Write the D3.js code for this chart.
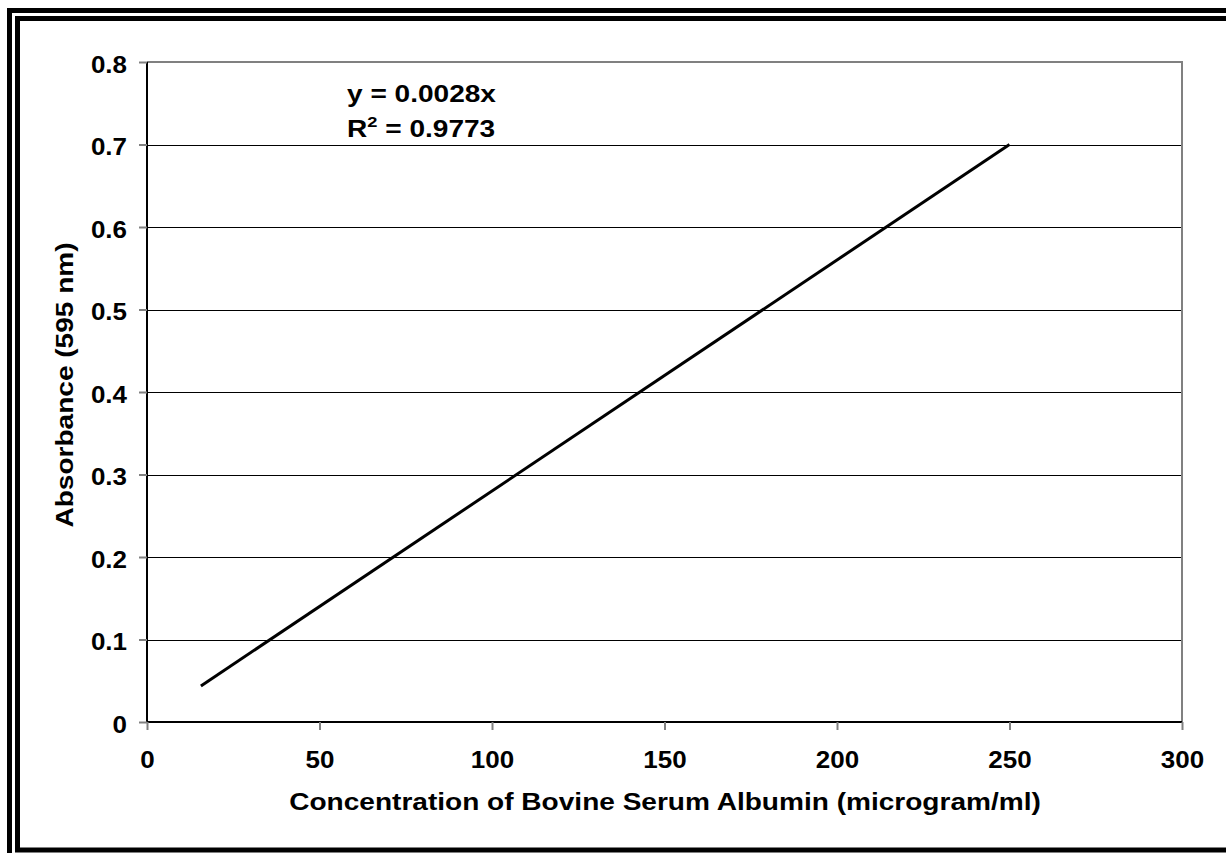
<!DOCTYPE html>
<html><head><meta charset="utf-8">
<script src="https://cdn.jsdelivr.net/npm/d3@7"></script>
<style>html,body{margin:0;padding:0;background:#fff;} svg{display:block;}</style>
</head><body>
<script>
const xTicks = [0, 50, 100, 150, 200, 250, 300];
const yTicks = [0, 0.1, 0.2, 0.3, 0.4, 0.5, 0.6, 0.7, 0.8];
const trendX = [15.625, 250];
const trendY = [0.04375, 0.7];
const equationLines = ["y = 0.0028x", "R2 = 0.9773"];
const xTitle = "Concentration of Bovine Serum Albumin (microgram/ml)";
const yTitle = "Absorbance (595 nm)";

const W = 1226, H = 853;
const svg = d3.select("body").append("svg").attr("width", W).attr("height", H);
const font = "'Liberation Sans', Arial, sans-serif";
const SX_TICK = 1.13, SX_TEXT = 1.22;

// frame
svg.append("rect").attr("x", 9.5).attr("y", 10.5).attr("width", 1300).attr("height", 1000)
  .attr("fill", "none").attr("stroke", "#000").attr("stroke-width", 5);
svg.append("rect").attr("x", 17.5).attr("y", 18.5).attr("width", 1300).attr("height", 831.5)
  .attr("fill", "none").attr("stroke", "#000").attr("stroke-width", 5);

const L = 147, R = 1182, T = 62, B = 722;
const x = d3.scaleLinear().domain([0, 300]).range([L, R]);
const y = d3.scaleLinear().domain([0, 0.8]).range([B, T]);

// gridlines
svg.append("g").selectAll("line").data(yTicks.filter(d => d > 0 && d < 0.8)).join("line")
  .attr("x1", L).attr("x2", R).attr("y1", d => Math.round(y(d)) + 0.5).attr("y2", d => Math.round(y(d)) + 0.5)
  .attr("stroke", "#000").attr("stroke-width", 1);

// plot border (top/right gray)
svg.append("path").attr("d", `M${L},${T}H${R}V${B}`).attr("fill", "none")
  .attr("stroke", "#808080").attr("stroke-width", 2);

// axes
const yAxis = d3.axisLeft(y).tickValues(yTicks).tickSize(8).tickFormat(d => d === 0 ? "0" : d3.format(".1f")(d));
const gy = svg.append("g").attr("transform", `translate(${L},0)`).call(yAxis);
const xAxis = d3.axisBottom(x).tickValues(xTicks).tickSize(8).tickFormat(d3.format("d"));
const gx = svg.append("g").attr("transform", `translate(0,${B})`).call(xAxis);
[gx, gy].forEach(g => {
  g.select(".domain").attr("stroke", "#000").attr("stroke-width", 2);
  g.selectAll(".tick line").attr("stroke", "#808080").attr("stroke-width", 2);
  g.selectAll(".tick text").attr("font-family", font).attr("font-weight", "bold")
    .attr("font-size", 23).attr("fill", "#000");
});
gy.select(".domain").attr("d", `M0,${T}V${B}`);
gx.select(".domain").attr("d", `M${L},0H${R}`);
gy.selectAll(".tick text").attr("x", null).attr("dy", null)
  .attr("transform", `translate(-20,10) scale(${SX_TICK},1)`);
gx.selectAll(".tick text").attr("y", null).attr("dy", null)
  .attr("transform", `translate(0,46) scale(${SX_TICK},1)`);

// trendline
svg.append("line").attr("x1", x(trendX[0])).attr("y1", y(trendY[0]))
  .attr("x2", x(trendX[1])).attr("y2", y(trendY[1]))
  .attr("stroke", "#000").attr("stroke-width", 3);

// equation
const eq = svg.append("g").attr("font-family", font).attr("font-weight", "bold").attr("font-size", 23);
eq.append("text").attr("transform", `translate(347,102) scale(${SX_TEXT},1)`).text(equationLines[0]);
const t2 = eq.append("text").attr("transform", `translate(347,137) scale(${SX_TEXT},1)`);
t2.append("tspan").text("R");
t2.append("tspan").attr("font-size", 15).attr("dy", -10).text("2");
t2.append("tspan").attr("dy", 10).text(" = 0.9773");

// titles
svg.append("text").attr("transform", `translate(665,810) scale(${SX_TEXT},1)`).attr("text-anchor", "middle")
  .attr("font-family", font).attr("font-weight", "bold").attr("font-size", 23).text(xTitle);
svg.append("text").attr("transform", `translate(73,385) rotate(-90) scale(${SX_TEXT},1)`).attr("text-anchor", "middle")
  .attr("font-family", font).attr("font-weight", "bold").attr("font-size", 23).text(yTitle);
</script>
</body></html>
